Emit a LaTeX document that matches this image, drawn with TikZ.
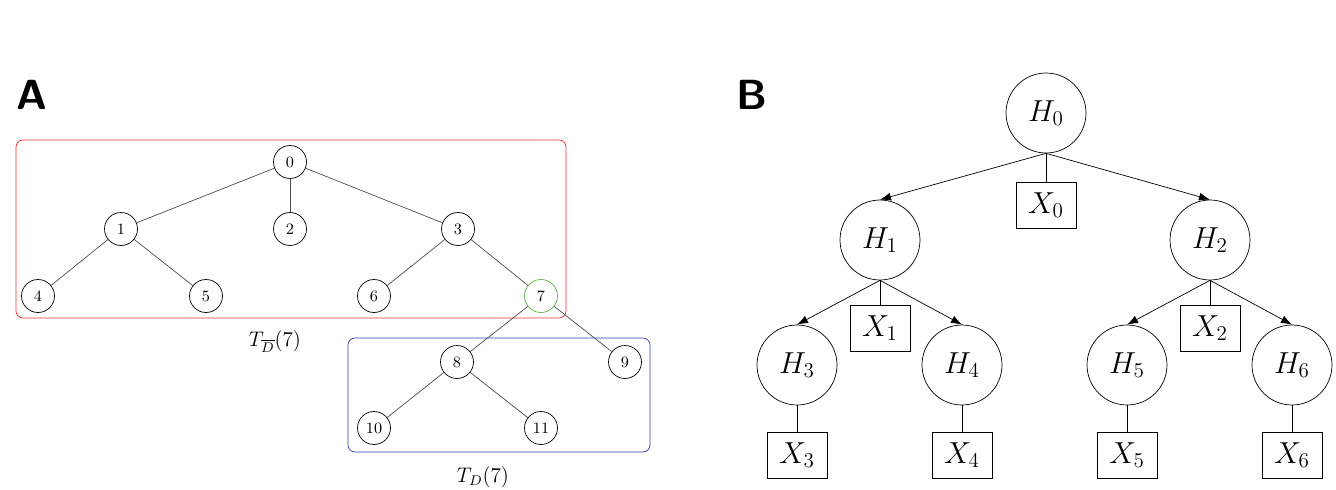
\documentclass[tikz,border=0pt]{standalone}
\usepackage{xcolor}
\definecolor{TopColor}{RGB}{230,50,50}
\definecolor{SubColor}{RGB}{50,60,170}
\definecolor{MarkColor}{RGB}{90,180,60}
\usetikzlibrary{positioning, arrows.meta}

\begin{document}
\begin{tikzpicture}[x=0.02cm, y=-0.02cm,
    vert/.style={circle, draw, thin, minimum size=0.66cm, inner sep=0pt, font=\small},
    hid/.style={circle, draw, thin, minimum size=1.6cm, inner sep=0pt, font=\fontsize{17}{20}\selectfont},
    obs/.style={rectangle, draw, thin, minimum width=1.2cm, minimum height=0.92cm, inner sep=0pt, font=\fontsize{17}{20}\selectfont},
    edge/.style={draw=black!70, thin},
    arrow/.style={-{Latex[length=2.2mm, width=1.6mm]}, thin},
    panel/.style={font=\sffamily\bfseries\fontsize{24}{28}\selectfont},
]
\useasboundingbox (0,0) rectangle (1336,490);

% Panel labels
\node[panel] (labA) at (32,95) {A};
\node[panel] (labB) at (752,95) {B};

% Panel A: boxes
\draw[TopColor, rounded corners=4pt] (16,140) rectangle (566,318);
\draw[SubColor, rounded corners=4pt] (348,338) rectangle (650,452);
\node[font=\large] (topL) at (275,342) {$T_{\overline{D}}(7)$};
\node[font=\large] (subL) at (483,477) {$T_D(7)$};

% Panel A: vertices
\foreach \n/\x/\y in {0/290/162, 1/121/229, 2/290/229, 3/458/229, 4/38/296,
    5/206/296, 6/374/296, 8/457/362, 9/625/362, 10/374/428, 11/541/428}
    \node[vert] (v\n) at (\x,\y) {\n};
\node[vert, draw=MarkColor] (v7) at (541,296) {7};

% Panel A: edges
\foreach \a/\b in {0/1, 0/2, 0/3, 1/4, 1/5, 3/6, 3/7, 7/8, 7/9, 8/10, 8/11}
    \draw[edge] (v\a) -- (v\b);

% Panel B: hidden nodes
\node[hid] (H0) at (1046,113) {$H_0$};
\node[hid] (H1) at (880,240) {$H_1$};
\node[hid] (H2) at (1210,240) {$H_2$};
\node[hid] (H3) at (797,365) {$H_3$};
\node[hid] (H4) at (962,365) {$H_4$};
\node[hid] (H5) at (1127,365) {$H_5$};
\node[hid] (H6) at (1292,365) {$H_6$};

% Panel B: observed nodes
\node[obs] (X0) at (1046,205) {$X_0$};
\node[obs] (X1) at (880,328) {$X_1$};
\node[obs] (X2) at (1210,328) {$X_2$};
\node[obs] (X3) at (797,455) {$X_3$};
\node[obs] (X4) at (962,455) {$X_4$};
\node[obs] (X5) at (1127,455) {$X_5$};
\node[obs] (X6) at (1292,455) {$X_6$};

% Panel B: connectors
\foreach \p/\c in {0/1, 0/2, 1/3, 1/4, 2/5, 2/6}
    \draw[arrow] (H\p.south) -- (H\c.north);
\foreach \i in {0,...,6}
    \draw[thin] (H\i.south) -- (X\i.north);

\end{tikzpicture}
\end{document}
